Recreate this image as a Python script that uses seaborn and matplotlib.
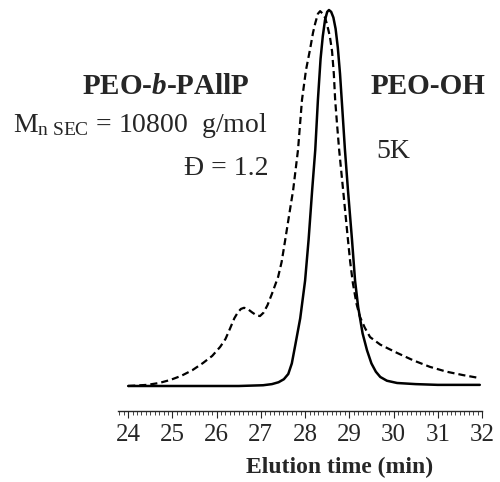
import numpy as np
import pandas as pd
import matplotlib
matplotlib.use("Agg")
import matplotlib.pyplot as plt
import seaborn as sns
from matplotlib.ticker import MultipleLocator

# SEC traces (normalised RI signal)
peo_oh_time = [24.0, 26.5, 27.05, 27.25, 27.4, 27.52, 27.62, 27.7, 27.78, 27.89,
               28.0, 28.08, 28.16, 28.23, 28.29, 28.35, 28.4, 28.45, 28.5, 28.54,
               28.59, 28.64, 28.69, 28.74, 28.79, 28.84, 28.9, 28.97, 29.06, 29.13,
               29.2, 29.3, 29.4, 29.5, 29.6, 29.7, 29.85, 30.08, 30.5, 31.0, 31.95]
peo_oh_signal = [0.0, 0.0, 0.002, 0.005, 0.01, 0.018, 0.032, 0.06, 0.11, 0.18,
                 0.28, 0.39, 0.521, 0.628, 0.761, 0.87, 0.93, 0.973, 0.995, 1.0,
                 0.995, 0.98, 0.95, 0.9, 0.83, 0.74, 0.63, 0.52, 0.39, 0.28,
                 0.21, 0.14, 0.095, 0.06, 0.038, 0.024, 0.014, 0.008, 0.005, 0.003, 0.003]

block_time = [24.0, 24.43, 24.7, 24.95, 25.2, 25.45, 25.69, 25.9, 26.08, 26.2,
              26.3, 26.4, 26.48, 26.55, 26.62, 26.7, 26.8, 26.9, 26.98, 27.06,
              27.15, 27.25, 27.39, 27.47, 27.55, 27.64, 27.73, 27.84, 27.93, 28.02,
              28.11, 28.18, 28.23, 28.29, 28.34, 28.4, 28.45, 28.5, 28.56, 28.61,
              28.65, 28.68, 28.72, 28.77, 28.86, 28.97, 29.02, 29.08, 29.16, 29.24,
              29.35, 29.47, 29.7, 30.08, 30.45, 30.82, 31.2, 31.57, 31.95]
block_signal = [0.0, 0.003, 0.008, 0.016, 0.027, 0.042, 0.061, 0.08, 0.104, 0.125,
                0.152, 0.18, 0.196, 0.205, 0.208, 0.205, 0.196, 0.188, 0.186, 0.195,
                0.215, 0.245, 0.29, 0.33, 0.388, 0.455, 0.521, 0.628, 0.761, 0.84,
                0.894, 0.94, 0.965, 0.99, 0.997, 0.99, 0.98, 0.96, 0.93, 0.89,
                0.83, 0.761, 0.7, 0.628, 0.521, 0.388, 0.33, 0.274, 0.22, 0.184,
                0.155, 0.13, 0.11, 0.088, 0.068, 0.051, 0.038, 0.029, 0.021]

sns.set_style("ticks")
plt.rcParams["font.family"] = ["Liberation Serif", "DejaVu Serif"]
plt.rcParams["mathtext.fontset"] = "custom"
plt.rcParams["mathtext.rm"] = "Liberation Serif"
plt.rcParams["mathtext.it"] = "Liberation Serif:italic"
plt.rcParams["mathtext.bf"] = "Liberation Serif:bold"
plt.rcParams["mathtext.bfit"] = "Liberation Serif:italic:bold"

fig = plt.figure(figsize=(5.0, 4.82), dpi=100)
ax = fig.add_axes([0.236, 0.1473, 0.728, 0.8527])

sns.lineplot(x=block_time, y=block_signal, ax=ax, color="black", lw=1.6,
             sort=False, estimator=None)
ax.lines[-1].set_dashes((3.2, 1.8))
sns.lineplot(x=peo_oh_time, y=peo_oh_signal, ax=ax, color="black", lw=1.8,
             sort=False, estimator=None)

ax.set_xlim(23.77, 32.0)
ax.set_ylim(-0.0665, 1.0266)

for s in ["top", "right", "left"]:
    ax.spines[s].set_visible(False)
ax.spines["bottom"].set_linewidth(1.0)
ax.set_yticks([])
ax.xaxis.set_major_locator(MultipleLocator(1))
ax.xaxis.set_minor_locator(MultipleLocator(0.1))
ax.tick_params(axis="x", which="major", direction="out", length=5, width=0.8,
               labelsize=18, pad=4)
ax.tick_params(axis="x", which="minor", direction="out", length=3, width=0.6)
ax.set_xlabel("Elution time (min)", fontsize=17, fontweight="bold", labelpad=8)
ax.xaxis.label.set_x(0.61)
ax.set_ylabel("")

# annotations
fig.text(166 / 500, 1 - 86 / 482, r"PEO-$\mathbfit{b}$-PAllP", fontsize=21,
         fontweight="bold", ha="center", va="center")
fig.text(13 / 500, 1 - 132 / 482, r"M$_{\rm n\ SEC}$ = 10800  g/mol", fontsize=20,
         ha="left", va="baseline")
fig.text(268 / 500, 1 - 175 / 482, "Đ = 1.2", fontsize=20, ha="right", va="baseline")
fig.text(428 / 500, 1 - 86 / 482, "PEO-OH", fontsize=21, fontweight="bold",
         ha="center", va="center")
fig.text(376 / 500, 1 - 158 / 482, "5K", fontsize=20, ha="left", va="baseline")

fig.savefig("out.png", dpi=100)
